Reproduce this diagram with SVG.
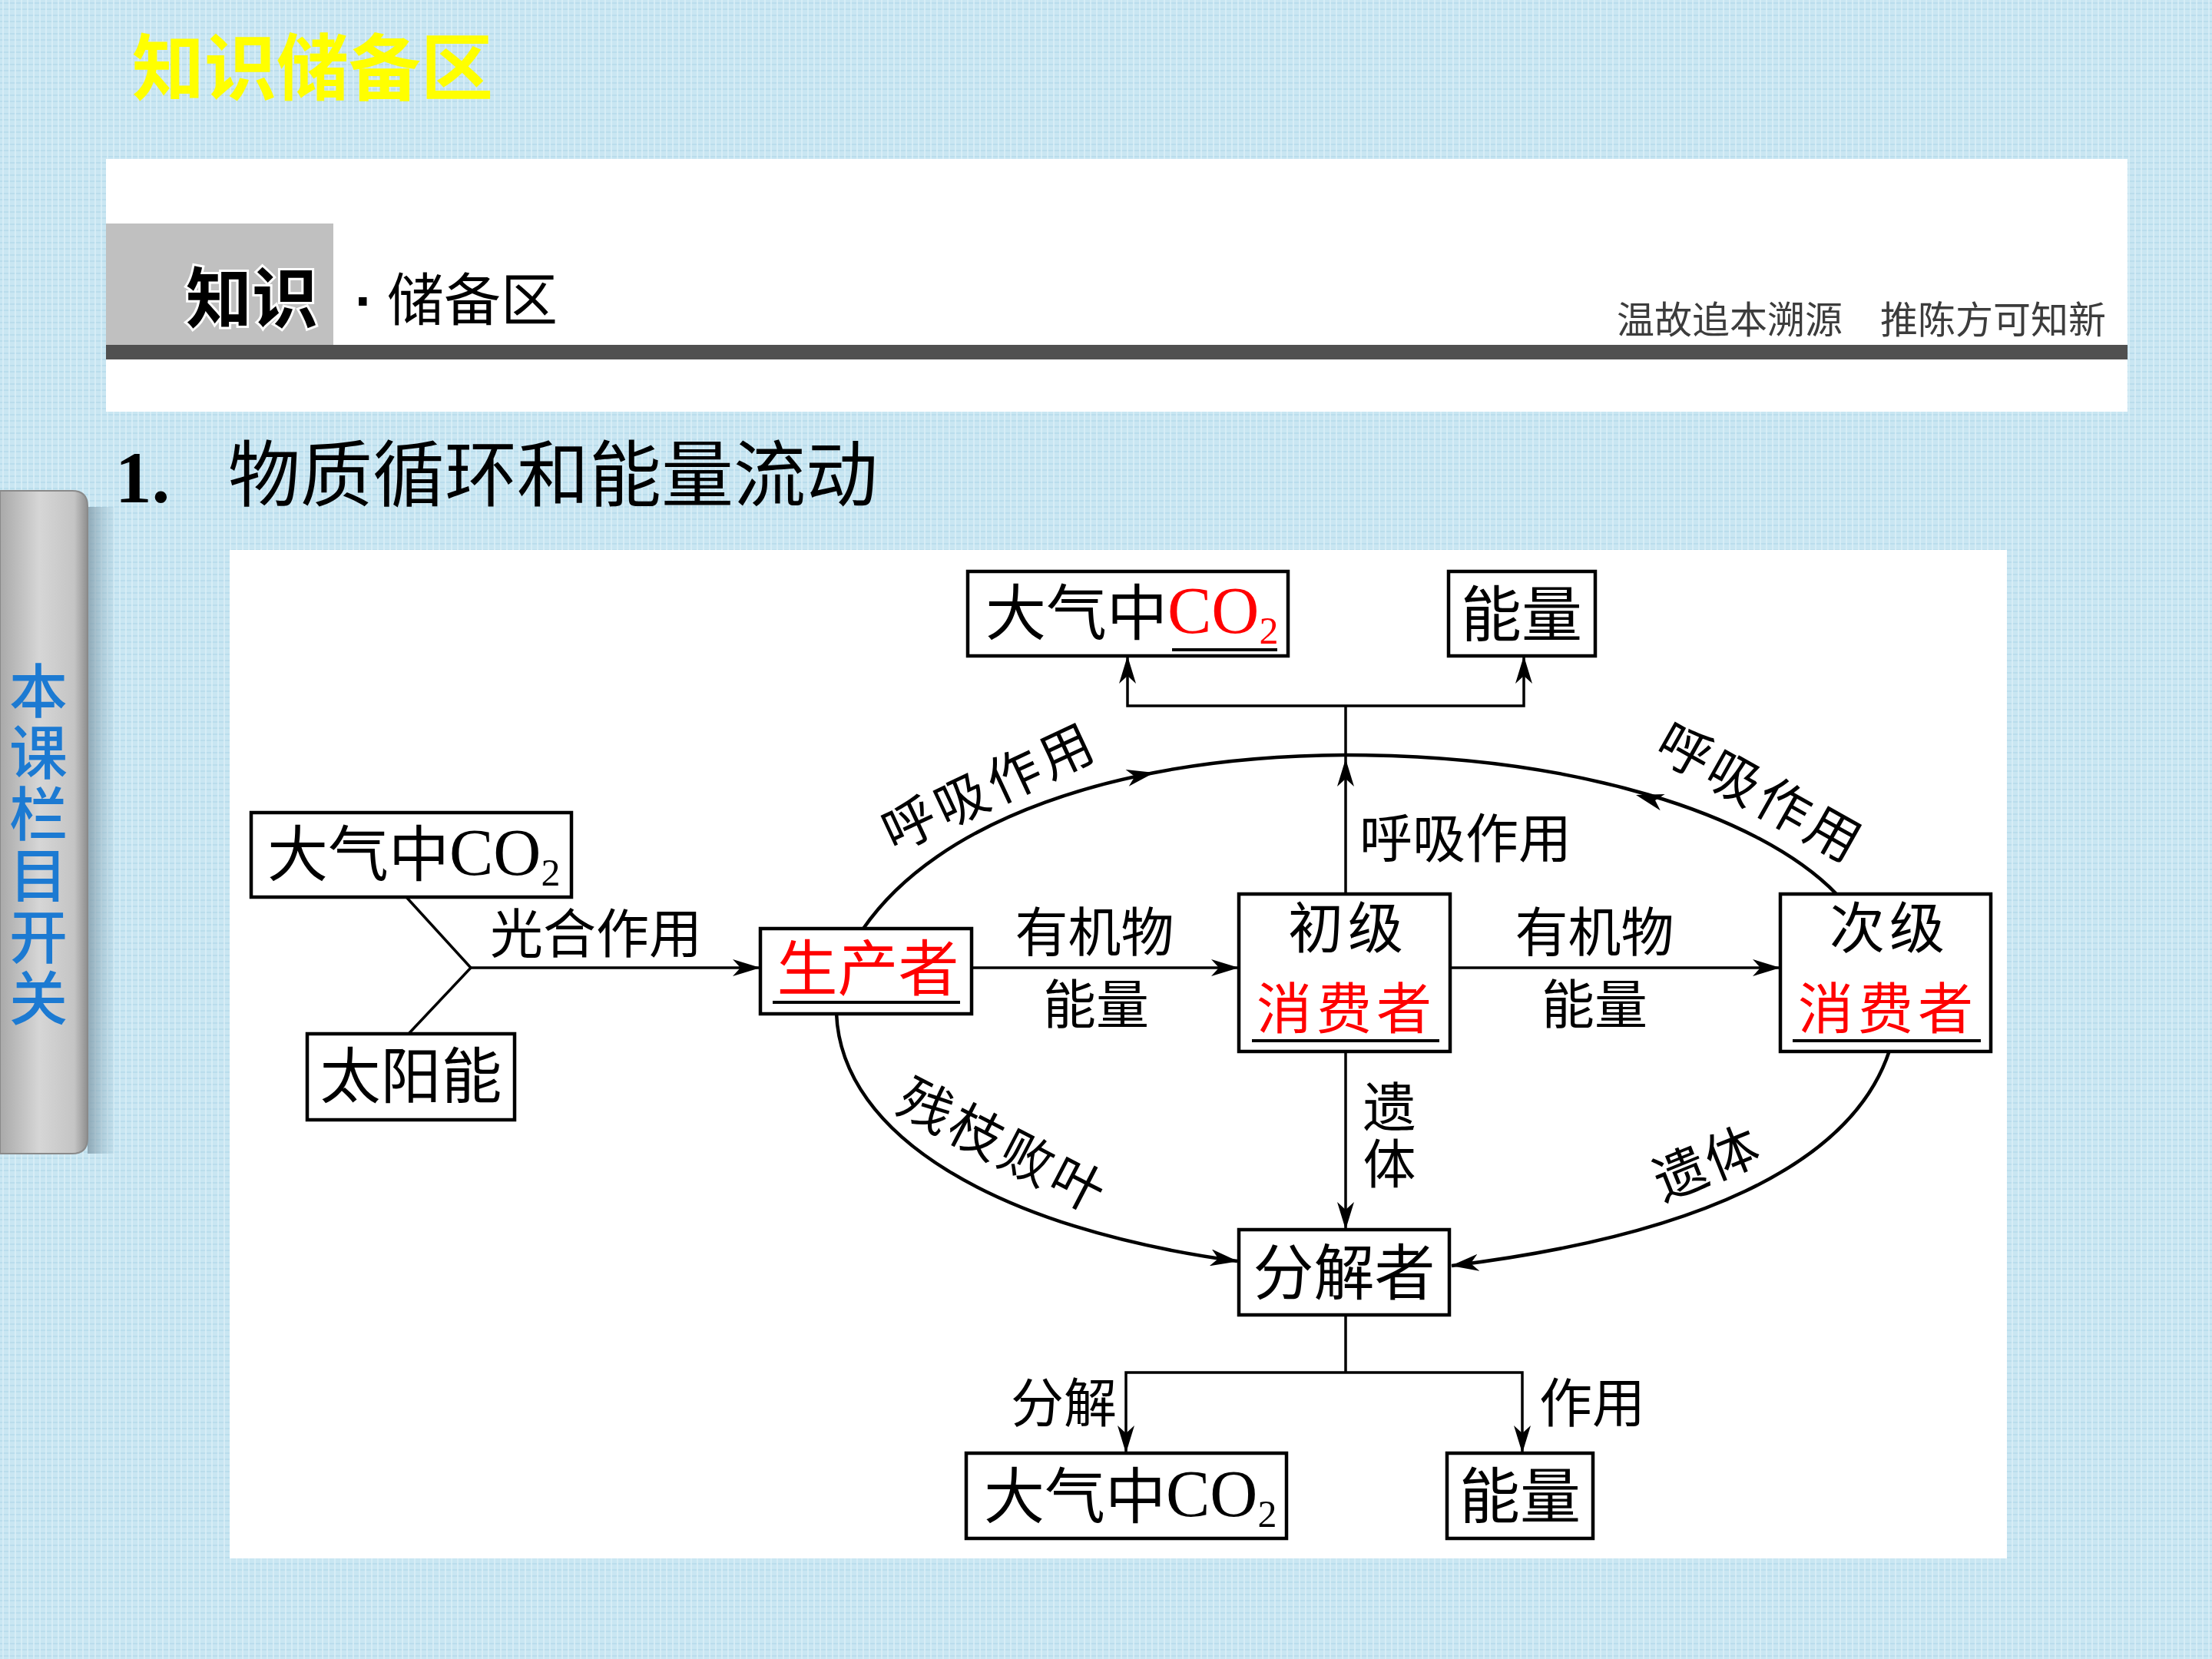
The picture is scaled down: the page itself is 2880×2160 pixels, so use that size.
<svg xmlns="http://www.w3.org/2000/svg" xmlns:xlink="http://www.w3.org/1999/xlink" width="2880" height="2160" viewBox="0 0 2880 2160">
<defs>
<pattern id="bg" width="16" height="16" patternUnits="userSpaceOnUse">
<rect width="16" height="16" fill="#c9e6f2"/>
<path d="M0,4h16M0,12h16" stroke="#b6daea" stroke-width="1.5"/>
<path d="M4,0v16M12,0v16" stroke="#dcf0f8" stroke-width="1.5"/>
</pattern>
<linearGradient id="tabg" x1="0" y1="0" x2="1" y2="0">
<stop offset="0" stop-color="#a9a9a9"/>
<stop offset="0.45" stop-color="#d6d6d6"/>
<stop offset="0.85" stop-color="#c4c4c4"/>
<stop offset="1" stop-color="#8e8e8e"/>
</linearGradient>
<linearGradient id="shg" x1="0" y1="0" x2="1" y2="0">
<stop offset="0" stop-color="#7f98a6" stop-opacity="0.8"/>
<stop offset="1" stop-color="#9fbfcf" stop-opacity="0.2"/>
</linearGradient>
<marker id="arr" viewBox="0 0 36 22" refX="35" refY="11" markerWidth="36" markerHeight="22" markerUnits="userSpaceOnUse" orient="auto">
<path d="M0,0 L36,11 L0,22 L10,11 Z" fill="#000"/>
</marker>
<path id="ah" d="M0,0 L-36,-11 L-26,0 L-36,11 Z" fill="#000"/>
<style>
.cjk{font-family:"Noto Sans CJK SC","Noto Sans",sans-serif;}
.box{fill:#fff;stroke:#000;stroke-width:4.5;}
.bt{font-family:"Noto Sans CJK SC",sans-serif;font-size:79px;fill:#000;}
.bt2{font-family:"Noto Sans CJK SC",sans-serif;font-size:72px;fill:#000;letter-spacing:6px;}
.red{fill:#ff0000;}
.lb{font-family:"Noto Sans CJK SC",sans-serif;font-size:69px;fill:#000;}
.ln{fill:none;stroke:#000;stroke-width:3.5;}
.arc{fill:none;stroke:#000;stroke-width:4.5;}
.ul{stroke:#000;stroke-width:4;}
.co{font-family:"Liberation Serif",serif;font-size:86px;}
.sub{font-family:"Liberation Serif",serif;font-size:50px;}
</style>
</defs>

<rect width="2880" height="2160" fill="url(#bg)"/>

<g id="header">
<text x="172" y="123" class="cjk" font-size="94" font-weight="bold" fill="#ffff00">知识储备区</text>
<rect x="138" y="207" width="2632" height="329" fill="#fff"/>
<rect x="138" y="291" width="296" height="158" fill="#c0c0c0"/>
<rect x="138" y="449" width="2632" height="19" fill="#505050"/>
<text x="242" y="420" class="cjk" font-size="86" font-weight="bold" fill="#000" stroke="#fff" stroke-width="6" paint-order="stroke">知识</text>
<text x="462" y="417" class="cjk" font-size="74" fill="#000"><tspan font-family="Liberation Sans,sans-serif" font-weight="bold">·</tspan><tspan x="504">储备区</tspan></text>
<text x="2742" y="434" class="cjk" font-size="49" fill="#3c3c3c" text-anchor="end">温故追本溯源　推陈方可知新</text>
</g>

<g id="title">
<text x="150" y="654" font-family="Liberation Serif,serif" font-size="95" font-weight="bold" fill="#000">1.</text>
<text x="297" y="652" class="cjk" font-size="94" fill="#000">物质循环和能量流动</text>
</g>

<g id="side-tab">
<rect x="114" y="660" width="34" height="842" fill="url(#shg)"/>
<path d="M0,639 H94 Q114,639 114,659 V1482 Q114,1502 94,1502 H0 Z" fill="url(#tabg)" stroke="#8a8a8a" stroke-width="2"/>
<text class="cjk" x="50" y="861" font-size="76" font-weight="500" fill="#1c7ad2" style="writing-mode:vertical-rl" letter-spacing="4">本课栏目开关</text>
</g>

<rect id="diagram-bg" x="299" y="716" width="2314" height="1313" fill="#fff"/>

<g id="connectors">
<path class="ln" d="M529,1168 L613,1260 L531,1347"/>
<path class="ln" d="M613,1260 L989,1260" marker-end="url(#arr)"/>
<path class="ln" d="M1265,1260 L1612,1260" marker-end="url(#arr)"/>
<path class="ln" d="M1888,1260 L2317,1260" marker-end="url(#arr)"/>
<path class="ln" d="M1752,1164 L1752,919"/>
<use xlink:href="#ah" href="#ah" transform="translate(1752,988) rotate(-90)"/>
<path class="ln" d="M1752,919 L1468,919 L1468,855" marker-end="url(#arr)"/>
<path class="ln" d="M1752,919 L1984,919 L1984,855" marker-end="url(#arr)"/>
<path class="ln" d="M1752,1370 L1752,1600" marker-end="url(#arr)"/>
<path class="ln" d="M1752,1713 L1752,1787"/>
<path class="ln" d="M1752,1787 L1466,1787 L1466,1891" marker-end="url(#arr)"/>
<path class="ln" d="M1752,1787 L1982,1787 L1982,1891" marker-end="url(#arr)"/>
<path class="arc" d="M1124,1209 C1220,1070 1450,985 1752,983"/>
<use xlink:href="#ah" href="#ah" transform="translate(1503,1006) rotate(-11)"/>
<path class="arc" d="M1752,983 C2050,983 2290,1060 2391,1164"/>
<use xlink:href="#ah" href="#ah" transform="translate(2130,1035) rotate(195.6)"/>
<path class="arc" d="M1089,1319 C1095,1480 1300,1600 1611,1642" marker-end="url(#arr)"/>
<path class="arc" d="M2460,1368 C2410,1520 2200,1610 1890,1648" marker-end="url(#arr)"/>
</g>

<g id="labels">
<text class="lb" x="776" y="1241" text-anchor="middle">光合作用</text>
<text class="lb" x="1425" y="1239" text-anchor="middle">有机物</text>
<text class="lb" x="1427" y="1333" text-anchor="middle">能量</text>
<text class="lb" x="2076" y="1239" text-anchor="middle">有机物</text>
<text class="lb" x="2076" y="1333" text-anchor="middle">能量</text>
<text class="lb" x="1908" y="1117" text-anchor="middle">呼吸作用</text>
<text class="lb" x="1809" y="1406" style="writing-mode:vertical-rl" letter-spacing="5">遗体</text>
<text class="lb" x="1385" y="1852" text-anchor="middle">分解</text>
<text class="lb" x="2073" y="1852" text-anchor="middle">作用</text>
<text class="lb" transform="translate(1289,1025) rotate(-25)" x="0" y="24" text-anchor="middle" letter-spacing="6">呼吸作用</text>
<text class="lb" transform="translate(2292,1033) rotate(29.4)" x="0" y="24" text-anchor="middle" letter-spacing="5">呼吸作用</text>
<text class="lb" transform="translate(1306,1493) rotate(27.4)" x="0" y="24" text-anchor="middle" letter-spacing="5">残枝败叶</text>
<text class="lb" transform="translate(2223,1515) rotate(-22)" x="0" y="24" text-anchor="middle" letter-spacing="3">遗体</text>
</g>

<g id="node-co2-top">
<rect class="box" x="1260" y="744" width="417" height="110"/>
<text x="1283" y="827"><tspan class="bt">大气中</tspan><tspan class="co red" y="824">CO</tspan><tspan class="sub red" y="838">2</tspan></text>
<line class="ul" x1="1526" y1="846" x2="1663" y2="846"/>
</g>

<g id="node-energy-top">
<rect class="box" x="1886" y="744" width="191" height="110"/>
<text class="bt" x="1981" y="829" text-anchor="middle">能量</text>
</g>

<g id="node-co2-left">
<rect class="box" x="327" y="1058" width="417" height="110"/>
<text x="348" y="1141"><tspan class="bt">大气中</tspan><tspan class="co" y="1139">CO</tspan><tspan class="sub" y="1153">2</tspan></text>
</g>

<g id="node-sun">
<rect class="box" x="400" y="1346" width="270" height="112"/>
<text class="bt" x="535" y="1430" text-anchor="middle">太阳能</text>
</g>

<g id="node-producer">
<rect class="box" x="990" y="1209" width="275" height="111"/>
<text class="bt red" x="1130" y="1290" text-anchor="middle">生产者</text>
<line class="ul" x1="1006" y1="1305" x2="1250" y2="1305"/>
</g>

<g id="node-primary">
<rect class="box" x="1613" y="1164" width="275" height="205"/>
<text class="bt2" x="1755" y="1234" text-anchor="middle">初级</text>
<text class="bt2 red" x="1753" y="1339" text-anchor="middle">消费者</text>
<line class="ul" x1="1630" y1="1355" x2="1874" y2="1355"/>
</g>

<g id="node-secondary">
<rect class="box" x="2318" y="1164" width="274" height="205"/>
<text class="bt2" x="2460" y="1234" text-anchor="middle">次级</text>
<text class="bt2 red" x="2458" y="1339" text-anchor="middle">消费者</text>
<line class="ul" x1="2334" y1="1355" x2="2579" y2="1355"/>
</g>

<g id="node-decomposer">
<rect class="box" x="1613" y="1601" width="274" height="111"/>
<text class="bt" x="1750" y="1686" text-anchor="middle">分解者</text>
</g>

<g id="node-co2-bottom">
<rect class="box" x="1258" y="1892" width="417" height="111"/>
<text x="1281" y="1977"><tspan class="bt">大气中</tspan><tspan class="co" y="1974">CO</tspan><tspan class="sub" y="1988">2</tspan></text>
</g>

<g id="node-energy-bottom">
<rect class="box" x="1884" y="1892" width="190" height="111"/>
<text class="bt" x="1979" y="1977" text-anchor="middle">能量</text>
</g>
</svg>
